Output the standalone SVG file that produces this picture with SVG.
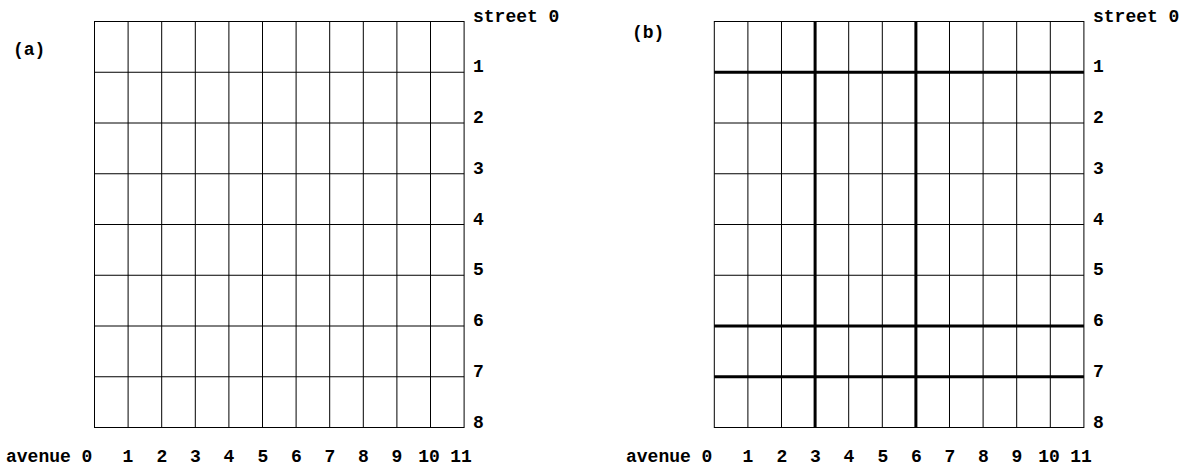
<svg xmlns="http://www.w3.org/2000/svg" width="1181" height="465" viewBox="0 0 1181 465">
<style>
.t{font-family:"Liberation Mono","Courier New",monospace;font-weight:bold;font-size:18px;fill:#000}
.m{text-anchor:middle}
.g{stroke:#000;stroke-width:1;fill:none}
.k{stroke:#000;stroke-width:3;fill:none}
</style>
<rect width="1181" height="465" fill="#fff"/>
<defs>
<g id="grid">
<rect class="g" x="0" y="0" width="369.6" height="406"/>
<path class="g" d="M33.6 0V406M67.2 0V406M100.8 0V406M134.4 0V406M168 0V406M201.6 0V406M235.2 0V406M268.8 0V406M302.4 0V406M336 0V406M0 50.75H369.6M0 101.5H369.6M0 152.25H369.6M0 203H369.6M0 253.75H369.6M0 304.5H369.6M0 355.25H369.6"/>
</g>
<g id="labels">
<text class="t" x="473" y="21.5">street 0</text>
<text class="t" x="473" y="72.25">1</text>
<text class="t" x="473" y="123">2</text>
<text class="t" x="473" y="173.75">3</text>
<text class="t" x="473" y="224.5">4</text>
<text class="t" x="473" y="275.25">5</text>
<text class="t" x="473" y="326">6</text>
<text class="t" x="473" y="376.75">7</text>
<text class="t" x="473" y="427.5">8</text>
<text class="t" x="6" y="461.5">avenue 0</text>
<text class="t m" x="128" y="461.5">1</text>
<text class="t m" x="162" y="461.5">2</text>
<text class="t m" x="195.5" y="461.5">3</text>
<text class="t m" x="229" y="461.5">4</text>
<text class="t m" x="263" y="461.5">5</text>
<text class="t m" x="296.5" y="461.5">6</text>
<text class="t m" x="330" y="461.5">7</text>
<text class="t m" x="363.5" y="461.5">8</text>
<text class="t m" x="397" y="461.5">9</text>
<text class="t m" x="429" y="461.5">10</text>
<text class="t m" x="461" y="461.5">11</text>
</g>
</defs>
<g id="panel-a">
<use href="#grid" x="94.5" y="21.5"/>
<use href="#labels"/>
<text class="t" x="13" y="55">(a)</text>
</g>
<g id="panel-b">
<use href="#grid" x="714.3" y="21.5"/>
<use href="#labels" x="620"/>
<text class="t" x="632" y="38">(b)</text>
<g id="thick-streets">
<path class="k" d="M714.3 72.25H1083.9M714.3 326H1083.9M714.3 376.75H1083.9"/>
</g>
<g id="thick-avenues">
<path class="k" d="M815.1 21.5V427.5M915.9 21.5V427.5"/>
</g>
</g>
</svg>
